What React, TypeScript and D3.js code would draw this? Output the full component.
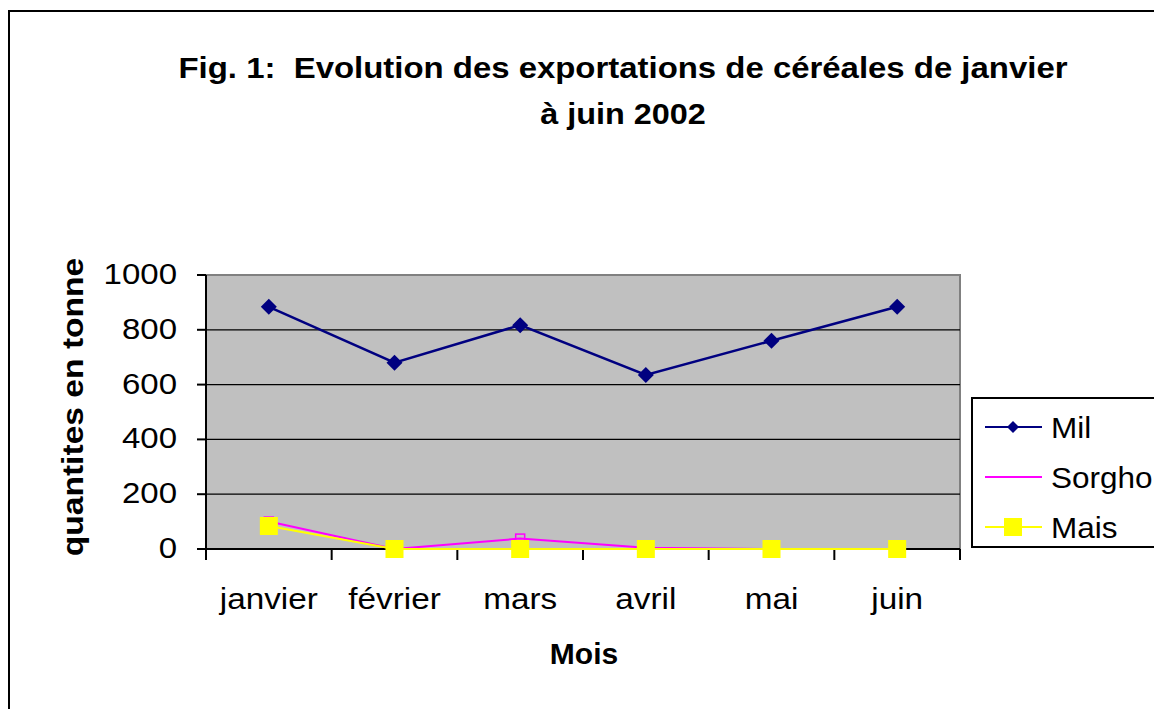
import React from "react";
import * as d3 from "d3";

const months = ["janvier", "février", "mars", "avril", "mai", "juin"];
const mil = [884, 680, 817, 635, 760, 884];
const sorgho = [100, 0, 38, 5, 0, 0];
const mais = [84, 0, 0, 0, 0, 0];
const yTicks = [0, 200, 400, 600, 800, 1000];
const titleLines = ["Fig. 1:  Evolution des exportations de céréales de janvier", "à juin 2002"];
const yTitle = "quantites en tonne";
const xTitle = "Mois";
const seriesNames = ["Mil", "Sorgho", "Mais"];

const W = 1154;
const H = 709;
const plot = { left: 206, right: 960, top: 275, bottom: 549 };
const FONT = "'Liberation Sans', Arial, sans-serif";

type TProps = {
  x: number;
  y: number;
  sx?: number;
  rot?: number;
  anchor?: "start" | "middle" | "end";
  size?: number;
  bold?: boolean;
  children: React.ReactNode;
};

function T({ x, y, sx = 1, rot = 0, anchor = "start", size = 30, bold = false, children }: TProps) {
  return (
    <g transform={`translate(${x},${y}) rotate(${rot}) scale(${sx},1)`}>
      <text x={0} y={0} textAnchor={anchor} fontSize={size} fontWeight={bold ? "bold" : "normal"}>
        {children}
      </text>
    </g>
  );
}

export default function App() {
  const x = d3.scaleBand<string>().domain(months).range([plot.left, plot.right]).paddingInner(0).paddingOuter(0);
  const y = d3.scaleLinear().domain([0, 1000]).range([plot.bottom, plot.top]);
  const cx = (m: string) => (x(m) as number) + x.bandwidth() / 2;
  const line = d3
    .line<number>()
    .x((_, i) => cx(months[i]))
    .y((d) => y(d));

  const diamond = (px: number, py: number, r: number) =>
    `M${px},${py - r}L${px + r},${py}L${px},${py + r}L${px - r},${py}Z`;

  const boundaries = months.map((m) => x(m) as number).concat([plot.right]);

  const legendRows = [427, 477, 527];

  return (
    <svg
      width={W}
      height={H}
      style={{ position: "absolute", left: 0, top: 0 }}
      fontFamily={FONT}
    >
      <rect x={0} y={0} width={W} height={H} fill="#fff" />
      {/* outer border */}
      <rect x={9} y={11} width={W + 20} height={H + 20} fill="none" stroke="#000" strokeWidth={2} />

      {/* title */}
      <text
        x={623}
        y={78}
        textAnchor="middle"
        fontSize={30}
        fontWeight="bold"
        textLength={889}
        lengthAdjust="spacingAndGlyphs"
        style={{ whiteSpace: "pre" }}
      >
        {titleLines[0]}
      </text>
      <T x={623} y={124} anchor="middle" bold sx={1.08}>
        {titleLines[1]}
      </T>

      {/* plot area */}
      <rect
        x={plot.left}
        y={plot.top}
        width={plot.right - plot.left}
        height={plot.bottom - plot.top}
        fill="#C0C0C0"
        stroke="#808080"
        strokeWidth={2}
      />
      {/* gridlines */}
      {yTicks.slice(1, -1).map((t) => (
        <line key={t} x1={plot.left} x2={plot.right} y1={y(t)} y2={y(t)} stroke="#000" strokeWidth={1.3} />
      ))}
      {/* axes */}
      <line x1={plot.left} x2={plot.left} y1={plot.top} y2={plot.bottom} stroke="#000" strokeWidth={2} />
      <line x1={plot.left} x2={plot.right} y1={plot.bottom} y2={plot.bottom} stroke="#000" strokeWidth={2} />
      {yTicks.map((t) => (
        <g key={t}>
          <line x1={plot.left - 9} x2={plot.left} y1={y(t)} y2={y(t)} stroke="#000" strokeWidth={2} />
          <T x={177} y={y(t) + 9} anchor="end" sx={1.1}>
            {t}
          </T>
        </g>
      ))}
      {boundaries.map((b, i) => (
        <line key={i} x1={b} x2={b} y1={plot.bottom} y2={plot.bottom + 11} stroke="#000" strokeWidth={2} />
      ))}
      {months.map((m) => (
        <T key={m} x={cx(m)} y={609} anchor="middle" sx={1.11}>
          {m}
        </T>
      ))}

      {/* axis titles */}
      <T x={584} y={664} anchor="middle" bold>
        {xTitle}
      </T>
      <T x={83} y={407} rot={-90} anchor="middle" bold sx={1.12}>
        {yTitle}
      </T>

      {/* series: Mil */}
      <path d={line(mil) || ""} fill="none" stroke="#000080" strokeWidth={2.5} />
      {mil.map((v, i) => (
        <path key={i} d={diamond(cx(months[i]), y(v), 8)} fill="#000080" />
      ))}
      {/* Sorgho */}
      <path d={line(sorgho) || ""} fill="none" stroke="#FF00FF" strokeWidth={2} />
      {sorgho.map((v, i) => (
        <rect
          key={i}
          x={cx(months[i]) - 4.5}
          y={y(v) - 4.5}
          width={9}
          height={9}
          fill="none"
          stroke="#FF00FF"
          strokeWidth={1.5}
        />
      ))}
      {/* Mais */}
      <path d={line(mais) || ""} fill="none" stroke="#FFFF00" strokeWidth={2} />
      {mais.map((v, i) => (
        <rect key={i} x={cx(months[i]) - 9} y={y(v) - 9} width={18} height={18} fill="#FFFF00" />
      ))}

      {/* legend */}
      <rect x={972} y={398} width={200} height={149} fill="#fff" stroke="#000" strokeWidth={2} />
      {seriesNames.map((n, i) => {
        const ly = legendRows[i];
        const color = ["#000080", "#FF00FF", "#FFFF00"][i];
        const mx = 1013;
        return (
          <g key={n}>
            <line x1={985} x2={1042} y1={ly} y2={ly} stroke={color} strokeWidth={2} />
            {i === 0 && <path d={diamond(mx, ly, 6)} fill={color} />}
            {i === 2 && <rect x={mx - 9} y={ly - 9} width={18} height={18} fill={color} />}
            <T x={1051} y={ly + 10.5} sx={1.05}>
              {n}
            </T>
          </g>
        );
      })}
    </svg>
  );
}
